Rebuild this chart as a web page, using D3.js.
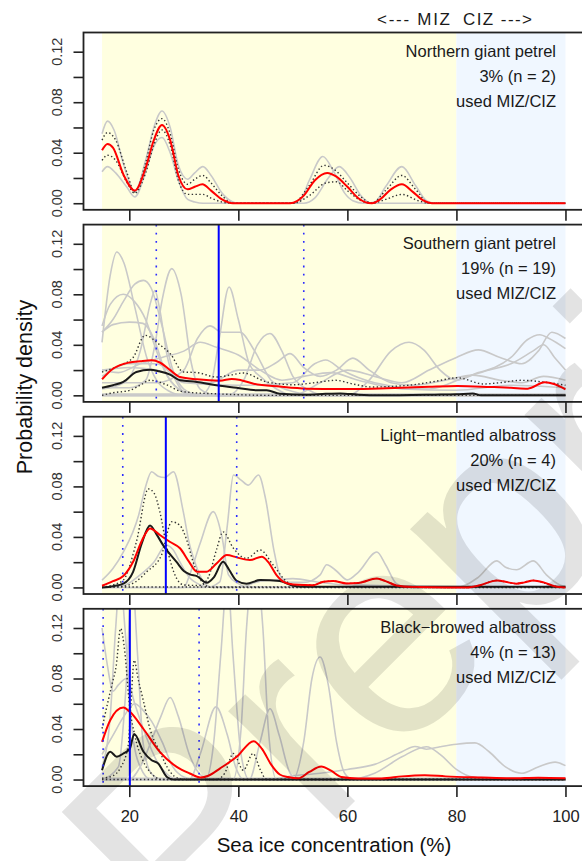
<!DOCTYPE html>
<html><head><meta charset="utf-8">
<script src="https://cdn.jsdelivr.net/npm/d3@7"></script>
<style>body{margin:0;background:#fff;} svg{display:block;font-family:"Liberation Sans",Arial,sans-serif;}</style>
</head><body><svg id="c" width="582" height="861"></svg>
<script>
// ---------------- DATA ----------------
const xTicks = [20, 40, 60, 80, 100];
const yTicks = [0, 0.02, 0.04, 0.06, 0.08, 0.10, 0.12];
const yTickLabels = ["0.00", "", "0.04", "", "0.08", "", "0.12"];
const zoneMIZ = [15, 80];
const zoneCIZ = [80, 100];
const species = ["Northern giant petrel", "Southern giant petrel", "Light\u2212mantled albatross", "Black\u2212browed albatross"];
const usage = ["3% (n = 2)", "19% (n = 19)", "20% (n = 4)", "4% (n = 13)"];
const usedLabel = "used MIZ/CIZ";
const blueMedian = [null, 36.4, 26.7, 20.1];
const blueLow = [null, 24.95, 18.8, 15.2];
const blueHigh = [null, 52.0, 39.7, 32.8];

// Panel 1: Northern giant petrel
const ngpGray = [
 [[15,.055],[16,.065],[17.2,.058],[19,.030],[21,.009],[23,.034],[24.5,.060],[26,.073],[27.5,.060],[29,.030],[30.7,.019],[32,.024],[33.5,.029],[35,.022],[37,.008],[39,.001],[40,0],[51,0],[53,.018],[55.5,.037],[57.5,.025],[59.5,.008],[61,.002],[63,0],[65,.001],[67,.013],[70,.029],[72.5,.014],[74.5,.002],[76,0],[100,0]],
 [[15,.025],[16,.029],[17.5,.024],[19.5,.013],[21,.005],[23,.025],[24.5,.045],[26,.052],[27.5,.040],[29,.018],[30.7,.003],[32,.001],[33.5,0],[52,0],[54,.004],[56.5,.020],[58.5,.029],[60.5,.020],[62.5,.006],[64.5,0],[100,0]]
];
const ngpDotted = [
 [[15,.05],[16,.056],[17.5,.05],[19.5,.025],[21,.009],[23,.032],[24.5,.058],[26,.067],[27.5,.055],[29,.027],[30.7,.015],[32,.019],[33.5,.022],[35,.016],[37,.006],[39,0],[50,0],[53,.014],[55.7,.030],[57.5,.027],[60,.016],[62.5,.005],[64.5,0],[67,.010],[70,.022],[72.5,.011],[75,0],[100,0]],
 [[15,.034],[16,.038],[17.5,.034],[19.5,.017],[21,.008],[23,.024],[24.5,.046],[26,.058],[27.5,.046],[29,.018],[30.7,.007],[32,.007],[33.5,.007],[35,.004],[37,.001],[39,0],[50,0],[53,.006],[56,.016],[58,.017],[60,.010],[62.5,.002],[64.5,0],[67,.003],[70,.007],[73,.002],[75,0],[100,0]]
];
const ngpBlack = null;
const ngpRed = [[15,.042],[16,.047],[17,.044],[19,.022],[21,.010],[23,.028],[24.5,.050],[26,.062],[27.5,.050],[29,.022],[30.7,.011],[32,.013],[33.4,.015],[35,.010],[37,.003],[39,0],[49.5,0],[52,.006],[54,.018],[56.3,.024],[58,.021],[60,.013],[62,.004],[64.5,0],[66,.003],[68,.011],[70,.015],[72,.009],[74,.002],[75.5,0],[100,0]];

// Panel 2: Southern giant petrel
const sgpGray = [
 [[15,.042],[16.5,.095],[17.7,.1135],[19,.105],[21,.070],[23.2,.030],[25,.012],[27,.004],[30,0],[100,0]],
 [[15,.006],[20,.006],[23,.012],[24.7,.04],[26,.075],[27.8,.1003],[29.5,.080],[31.4,.025],[33,.005],[36,0],[100,0]],
 [[15,.05],[17,.060],[19,.075],[21,.088],[22.6,.091],[24,.085],[26,.055],[28,.020],[30,.005],[33,0],[100,0]],
 [[15,.055],[16.5,.072],[18.9,.080],[21,.074],[23,.060],[25,.035],[27,.015],[30,.003],[32,0],[100,0]],
 [[15,.05],[17,.056],[20,.058],[22.5,.057],[24.5,.045],[26.5,.020],[29,.005],[32,0],[100,0]],
 [[15,0],[33,0],[35,.01],[36.5,.045],[38.3,.0858],[40,.06],[42,.025],[44,.015],[47,.005],[50,0],[100,0]],
 [[15,.005],[19,.01],[22,.035],[24,.075],[24.7,.083],[25.5,.07],[27,.03],[29,.008],[31,0],[100,0]],
 [[15,.01],[25,.01],[30,.02],[32.5,.045],[34.8,.055],[37,.05],[40.3,.050],[43,.035],[46,.012],[50,.003],[55,0],[100,0]],
 [[15,0],[38,0],[41,.012],[43.5,.040],[45.8,.049],[48,.035],[50,.015],[53,.004],[56,0],[100,0]],
 [[15,.02],[20,.022],[25,.02],[30,.012],[35,.01],[40,.02],[44,.02],[47,.026],[49.5,.033],[52,.022],[55,.015],[58,.02],[61,.0295],[64,.02],[68,.01],[72,.008],[78,.012],[83,.016],[88,.012],[92,.01],[96,.015],[100,.012]],
 [[15,0],[60,0],[64,.012],[68,.035],[71.3,.042],[74,.036],[77,.02],[80,.012],[84,.018],[87,.022],[90,.03],[93,.044],[95.3,.048],[97,.045],[100,.037]],
 [[15,0],[50,0],[55,.01],[60,.02],[65,.015],[70,.01],[75,.02],[80,.03],[84,.036],[88,.03],[92,.025],[95,.035],[97.5,.05],[100,.045]],
 [[15,.015],[20,.025],[25,.025],[30,.01],[40,.008],[50,.01],[54,.025],[56,.028],[59,.02],[65,.01],[75,.005],[82,.015],[86,.02],[90,.025],[94,.035],[96,.04],[98,.03],[100,.02]],
 [[15,.02],[18,.018],[22,.025],[26,.03],[30,.035],[33,.042],[36,.038],[40,.032],[44,.02],[48,.012],[52,.015],[57,.018],[62,.012],[70,.005],[80,.004],[90,.008],[100,.006]],
 [[15,.001],[40,.001],[60,.001],[100,.001]]
];
const sgpDotted = [
 [[15,.0185],[18.3,.0238],[20.7,.030],[22.9,.0475],[25.6,.040],[27.5,.033],[29.9,.0185],[32.4,.018],[36,.0145],[38.5,.016],[40.9,.0177],[45.2,.0106],[50.1,.0084],[54,.010],[57.9,.0119],[61,.009],[64.5,.0066],[68,.007],[71.3,.008],[76,.011],[80.2,.0139],[85,.009],[88,.010],[91.8,.0119],[95.9,.0106],[100,.008]],
 [[15,0],[17,.002],[20.1,.004],[22,.008],[23.8,.0119],[26.8,.0084],[29.3,.0034],[32,.002],[35.4,.0013],[40,.0005],[45,0],[100,0]]
];
const sgpBlack = [[15,.006],[17,.008],[18.9,.0106],[21.3,.0185],[23.8,.0203],[25.5,.019],[27.5,.0164],[29.3,.0119],[32.4,.0106],[35.4,.0084],[39.7,.006],[43.4,.004],[45.2,.004],[47.6,.0013],[52.5,.0005],[56,.0012],[58.7,.0015],[62,.0005],[66,0],[76,.0005],[80,.0008],[83,.0015],[84.5,0],[100,0]];
const sgpRed = [[15,.0127],[17,.021],[20,.026],[22,.027],[24.1,.0277],[25.6,.026],[27.5,.020],[29.3,.0145],[32.4,.0127],[36.6,.0116],[38.8,.013],[40.5,.012],[42.8,.0092],[47.6,.0069],[52.5,.0053],[58.7,.005],[64.5,.0053],[70,.006],[75,.0068],[80.2,.0074],[86.3,.0066],[90,.006],[93.1,.0053],[96.2,.0103],[97.9,.009],[100,.0048]];

// Panel 3: Light-mantled albatross
const lmaGray = [
 [[15,.0058],[17,.015],[18.9,.028],[21.7,.057],[23,.08],[24.1,.0916],[25.3,.088],[26.5,.087],[28.1,.0916],[29.9,.06],[31,.035],[32,.0203],[33.6,.0045],[35,.0005],[100,0]],
 [[15,0],[34,0],[36.6,.0045],[38,.05],[39.1,.089],[40.5,.085],[41.8,.081],[43.7,.089],[45,.07],[46.5,.03],[47.6,.01],[49,.004],[52,.004],[55,.01],[56.2,.018],[58,.013],[60,.006],[62,.012],[65.4,.028],[67,.018],[69,.003],[71,0],[80,0],[84,.008],[87.4,.021],[89,.016],[91,.014],[94.1,.021],[96.5,.01],[99,.002],[100,.001]],
 [[15,0],[30,0],[31.1,.0103],[33,.035],[35.4,.06],[37,.04],[38.2,.01],[40,.003],[42,0],[100,0]],
 [[15,0],[18.9,.0015],[22,.01],[24.5,.02],[26.8,.0335],[28,.03],[29.3,.02],[31,.008],[33,.002],[35,0],[40,0],[44,.005],[47,.006],[50,.007],[55,.004],[60,.002],[100,0]]
];
const lmaDotted = [
 [[15,0],[17,.002],[18.9,.0058],[21.3,.036],[23.5,.078],[24.5,.075],[25.6,.06],[26.8,.0335],[28.7,.007],[30,.002],[33,.0015],[34.5,.008],[36,.03],[37.2,.044],[39.1,.031],[41.5,.023],[44,.0296],[46.4,.0177],[48.9,.0045],[50.5,.002],[53.8,.002],[55.6,.0045],[57.4,.005],[59.9,.0032],[62,.0035],[65.4,.007],[67,.005],[69,.0016],[72,0],[82,0],[84.5,.002],[87.4,.0055],[91,.003],[94.1,.0055],[98,.001],[100,0]],
 [[15,0],[18.9,.001],[21,.004],[23.2,.0124],[25.9,.0256],[27.8,.052],[29.3,.049],[30.5,.038],[31.7,.0203],[33.6,.003],[35,0],[100,0]],
 [[15,.0004],[100,.0004]]
];
const lmaBlack = [[15,0],[17,.001],[18.9,.003],[20.7,.0124],[22.3,.035],[23.8,.049],[25,.042],[26.2,.0335],[28.7,.02],[30,.013],[31.1,.0103],[32.4,.009],[34.2,.0037],[35.5,.008],[37.2,.0203],[38.3,.014],[39.7,.0053],[41.5,.003],[44,.0058],[47.6,.005],[50.1,.0013],[52,.0005],[100,.0005]];
const lmaRed = [[15,.0013],[17,.005],[18.9,.009],[20.7,.0203],[22.3,.037],[23.8,.0467],[25.6,.0415],[27.5,.036],[29.3,.031],[31,.02],[32.4,.0124],[34.2,.0125],[36,.019],[37.9,.0256],[39.7,.0238],[42.1,.0217],[44.3,.0243],[45.5,.02],[47,.0098],[48.5,.004],[50.1,.0024],[53.8,.0018],[55.6,.0045],[57.4,.005],[59.9,.0032],[62,.0035],[65.4,.007],[67,.005],[69,.0016],[72,.0003],[78.2,0],[82,0],[84.5,.002],[87.4,.0055],[89.5,.004],[91,.003],[92.5,.004],[94.1,.0055],[96,.004],[98,.001],[100,0]];

// Panel 4: Black-browed albatross
const bbaGray = [
 [[15,.01],[16.5,.05],[17.5,.12],[18.3,.16],[19.2,.12],[20.5,.04],[22,.01],[24,0],[100,0]],
 [[15,0],[18,.01],[19.5,.08],[20.5,.16],[21.5,.10],[22.5,.03],[24,.005],[26,0],[100,0]],
 [[15,.12],[16,.09],[17,.07],[18,.075],[19.5,.08],[21,.06],[23,.035],[25,.015],[27,.004],[29,0],[100,0]],
 [[15,.02],[17,.035],[19,.05],[21,.06],[22.5,.055],[24.1,.046],[26,.03],[28,.01],[30,.002],[32,0],[100,0]],
 [[15,0],[20,0],[22,.01],[24,.03],[25.8,.05],[27.5,.065],[29,.05],[31,.02],[33,.004],[35,0],[100,0]],
 [[15,0],[31,0],[33,.02],[35.9,.0575],[38,.035],[39.5,.01],[41,0],[100,0]],
 [[15,0],[34,0],[35.5,.03],[36.8,.10],[38,.16],[39,.10],[40.5,.02],[42,0],[100,0]],
 [[15,0],[39,0],[40.5,.04],[41.5,.12],[42.5,.16],[43.5,.16],[44.5,.12],[45.5,.04],[47,0],[100,0]],
 [[15,0],[42,0],[44,.03],[45.8,.056],[47.5,.035],[49.5,.005],[51,0],[100,0]],
 [[15,0],[50,0],[52,.03],[53.5,.08],[55,.097],[56.5,.075],[58,.03],[59.5,.005],[61,0],[100,0]],
 [[15,0],[45,0],[50,.003],[55,.005],[60,.008],[65,.012],[70,.022],[72.4,.0262],[74.5,.024],[77,.026],[80,.028],[83.4,.029],[86,.022],[89,.01],[92,.005],[95,.01],[98.1,.0138],[100,.011]],
 [[15,0],[60,0],[65,.005],[70,.018],[74.5,.026],[77,.02],[80,.008],[83,.002],[100,0]],
 [[15,.001],[100,.001]]
];
const bbaDotted = [
 [[15,.0404],[16,.06],[16.8,.075],[17.6,.09],[18.4,.1196],[19.2,.10],[20,.06],[21,.035],[22.5,.015],[24,.005],[26,0],[100,0]],
 [[15,.001],[17,.003],[18.3,.0087],[19.8,.027],[20.3,.06],[20.9,.0945],[21.6,.08],[22.6,.062],[23.8,.04],[25.6,.022],[27.5,.006],[29,.001],[31,0],[36,0],[37.5,.005],[39.1,.0206],[40.9,.0074],[42.7,.0206],[44,.008],[45.2,0],[100,0]],
 [[15,0],[100,0]]
];
const bbaBlack = [[15,.0074],[16.5,.022],[17.7,.018],[18.9,.0206],[20.1,.0245],[20.9,.036],[22.6,.022],[24.1,.0153],[25.3,.0127],[26.9,.002],[28.1,0],[100,0]];
const bbaRed = [[15,.0298],[16.5,.047],[18.9,.057],[20.1,.0536],[22.6,.040],[25.6,.0219],[28.7,.010],[31.1,.0048],[33,.0016],[34.5,.003],[36.6,.0087],[39.7,.018],[42.8,.0304],[44.3,.0245],[46,.012],[47.6,.004],[49.1,.002],[51,.001],[53,.006],[55.2,.0103],[57,.007],[58.9,.002],[62,.0008],[66.3,.0008],[70,.0025],[74.2,.0034],[78,.0025],[84.6,.0016],[90,.001],[95,.0015],[100,.001]];

// ---------------- DRAWING ----------------
const panels = [
  {gray: ngpGray, dotted: ngpDotted, black: ngpBlack, red: ngpRed},
  {gray: sgpGray, dotted: sgpDotted, black: sgpBlack, red: sgpRed},
  {gray: lmaGray, dotted: lmaDotted, black: lmaBlack, red: lmaRed},
  {gray: bbaGray, dotted: bbaDotted, black: bbaBlack, red: bbaRed}
];

const svg = d3.select("#c");
const left = 83.5, right = 584, pH = 177.3, pitch = 192.1, top0 = 32.5;
const x = d3.scaleLinear().domain([11.6, 103.4]).range([left, right]);
const ink = "#222";

const defs = svg.append("defs");

panels.forEach((p, i) => {
  const top = top0 + i * pitch;
  const y = d3.scaleLinear().domain([-0.0052, 0.1352]).range([top + pH, top]);
  const g = svg.append("g");
  defs.append("clipPath").attr("id", "clip" + i).append("rect")
    .attr("x", left).attr("y", top).attr("width", right - left).attr("height", pH);
  const pg = g.append("g").attr("clip-path", `url(#clip${i})`);
  pg.append("rect").attr("x", x(zoneMIZ[0])).attr("y", top).attr("width", x(zoneMIZ[1]) - x(zoneMIZ[0])).attr("height", pH).attr("fill", "#FFFFE0");
  pg.append("rect").attr("x", x(zoneCIZ[0])).attr("y", top).attr("width", x(zoneCIZ[1]) - x(zoneCIZ[0])).attr("height", pH).attr("fill", "#F0F7FF");

  const line = d3.line().x(d => x(d[0])).y(d => y(d[1])).curve(d3.curveMonotoneX);
  p.gray.forEach(s => pg.append("path").attr("d", line(s)).attr("fill", "none").attr("stroke", "#c9c9c9").attr("stroke-width", 1.6));
  p.dotted.forEach(s => pg.append("path").attr("d", line(s)).attr("fill", "none").attr("stroke", "#333").attr("stroke-width", 1.4).attr("stroke-dasharray", "1.4,2.4"));
  if (p.black) pg.append("path").attr("d", line(p.black)).attr("fill", "none").attr("stroke", "#1a1a1a").attr("stroke-width", 2);
  pg.append("path").attr("d", line(p.red)).attr("fill", "none").attr("stroke", "#ff0000").attr("stroke-width", 2);

  if (blueMedian[i] != null) {
    [blueLow[i], blueHigh[i]].forEach(v => pg.append("line").attr("x1", x(v)).attr("x2", x(v)).attr("y1", top).attr("y2", top + pH)
      .attr("stroke", "#2a2aff").attr("stroke-width", 1.6).attr("stroke-dasharray", "1.8,6.4"));
    pg.append("line").attr("x1", x(blueMedian[i])).attr("x2", x(blueMedian[i])).attr("y1", top).attr("y2", top + pH)
      .attr("stroke", "#0000ff").attr("stroke-width", 2);
  }

  // box
  g.append("rect").attr("x", left).attr("y", top).attr("width", right - left).attr("height", pH)
    .attr("fill", "none").attr("stroke", ink).attr("stroke-width", 1.8);

  // y axis
  const ya = d3.axisLeft(y).tickValues(yTicks).tickSize(10).tickFormat("");
  const yg = g.append("g").attr("transform", `translate(${left},0)`).call(ya);
  yg.select(".domain").remove();
  yg.selectAll(".tick line").attr("stroke", ink).attr("stroke-width", 1.6);
  yTicks.forEach((v, k) => {
    if (!yTickLabels[k]) return;
    g.append("text").attr("transform", `translate(61.5,${y(v)}) rotate(-90)`)
      .attr("text-anchor", "middle").attr("font-size", 14.5).attr("fill", "#333").text(yTickLabels[k]);
  });

  // x axis ticks
  const xa = d3.axisBottom(x).tickValues(xTicks).tickSize(11).tickFormat(i === 3 ? d3.format("d") : "");
  const xg = g.append("g").attr("transform", `translate(0,${top + pH})`).call(xa);
  xg.select(".domain").remove();
  xg.selectAll(".tick line").attr("stroke", ink).attr("stroke-width", 1.6);
  xg.selectAll(".tick text").attr("font-size", 16.5).attr("fill", "#222").attr("dy", null).attr("y", 0)
    .attr("transform", "translate(0,36)").attr("font-family", '"Liberation Sans",Arial,sans-serif');

  // species labels
  const tx = 556;
  [species[i], usage[i], usedLabel].forEach((t, k) => {
    g.append("text").attr("x", tx).attr("y", top + 24 + k * 25).attr("text-anchor", "end")
      .attr("font-size", 16.5).attr("fill", "#1a1a1a").text(t);
  });
});

// MIZ / CIZ header
svg.append("text").attr("x", 450).attr("y", 25).attr("text-anchor", "end").attr("font-size", 17)
  .attr("textLength", 73).attr("lengthAdjust", "spacing").attr("fill", "#1a1a1a").text("<--- MIZ");
svg.append("text").attr("x", 463).attr("y", 25).attr("text-anchor", "start").attr("font-size", 17)
  .attr("textLength", 69).attr("lengthAdjust", "spacing").attr("fill", "#1a1a1a").text("CIZ --->");

// axis titles
svg.append("text").attr("transform", "translate(31.5,387) rotate(-90)").attr("text-anchor", "middle")
  .attr("font-size", 21.5).attr("fill", "#111").text("Probability density");
svg.append("text").attr("x", 334).attr("y", 852).attr("text-anchor", "middle")
  .attr("font-size", 20.5).attr("fill", "#111").text("Sea ice concentration (%)");

// watermark
svg.append("text").attr("transform", "translate(186,970) rotate(-45)").attr("font-size", 290)
  .attr("fill", "#000").attr("fill-opacity", 0.11).text("Preprint");
</script></body></html>
